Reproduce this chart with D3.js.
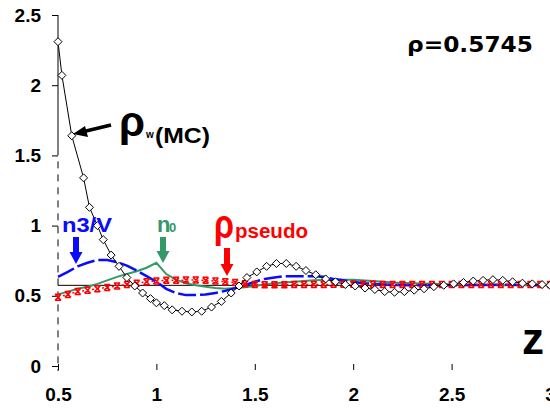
<!DOCTYPE html>
<html>
<head>
<meta charset="utf-8">
<script src="https://cdn.jsdelivr.net/npm/d3@7"></script>
<style>
  body { margin: 0; background: #fff; }
  svg { display: block; }
  .tick text { font-family: "Liberation Sans", Arial, sans-serif; font-weight: bold; font-size: 19px; fill: #000; }
  .tick line { stroke: #000; }
</style>
</head>
<body>
<div class="canva"></div>
<script>
// ticks
const xTicks = [0.5, 1, 1.5, 2, 2.5, 3];
const yTicks = [0, 0.5, 1, 1.5, 2, 2.5];
const rhoBulk = 0.5745;

// rho_w(MC), black with diamonds
const zMC = [0.50,0.52,0.57,0.63,0.66,0.70,0.73,0.77,0.81,0.85,0.89,0.93,0.97,1.00,1.04,1.08,1.13,1.18,1.23,1.28,
  1.33,1.38,1.42,1.46,1.51,1.56,1.61,1.66,1.71,1.76,1.81,1.86,1.91,1.96,2.01,2.06,2.11,2.16,2.21,2.26,
  2.31,2.36,2.41,2.46,2.51,2.56,2.61,2.66,2.71,2.76,2.81,2.86,2.91,2.96,3.00];
const rhoMC = [2.31,2.07,1.64,1.34,1.13,1.00,0.90,0.79,0.71,0.63,0.57,0.52,0.48,0.45,0.43,0.40,0.39,0.385,0.39,0.42,
  0.46,0.52,0.57,0.63,0.67,0.71,0.73,0.73,0.71,0.68,0.65,0.62,0.60,0.58,0.57,0.555,0.545,0.53,0.525,0.53,
  0.54,0.55,0.565,0.575,0.585,0.595,0.605,0.61,0.615,0.61,0.60,0.59,0.585,0.58,0.575];

// n3/V, blue dashed
const zN3 = [0.50,0.55,0.60,0.65,0.70,0.75,0.80,0.85,0.90,0.95,1.00,1.05,1.10,1.15,1.20,1.25,1.30,1.35,1.40,1.45,
  1.50,1.55,1.60,1.65,1.70,1.75,1.80,1.85,1.90,1.95,2.00,2.05,2.10,2.20,2.30,2.40,2.50,2.60,2.70,2.80,2.90,3.00];
const n3V = [0.635,0.67,0.71,0.735,0.755,0.755,0.74,0.715,0.68,0.64,0.60,0.55,0.52,0.505,0.505,0.51,0.52,0.535,0.555,0.575,
  0.60,0.62,0.63,0.64,0.64,0.64,0.64,0.635,0.62,0.61,0.60,0.59,0.585,0.578,0.575,0.575,0.575,0.577,0.578,0.578,0.576,0.575];

// n0, green
const zN0 = [0.50,0.55,0.60,0.65,0.70,0.75,0.80,0.85,0.90,0.95,1.00,1.05,1.10,1.15,1.20,1.25,1.30,1.35,1.40,1.45,
  1.50,1.55,1.60,1.70,1.80,1.90,2.00,2.10,2.20,2.30,2.40,2.50,2.60,2.70,2.80,2.90,3.00];
const n0 = [0.51,0.53,0.55,0.565,0.585,0.61,0.635,0.655,0.675,0.70,0.735,0.655,0.615,0.59,0.575,0.565,0.555,0.55,0.555,0.56,
  0.57,0.58,0.59,0.60,0.61,0.615,0.615,0.605,0.595,0.59,0.585,0.58,0.578,0.576,0.575,0.575,0.575];

// rho_pseudo, red dotted with x marks
const zPs = [0.50,0.55,0.60,0.65,0.70,0.75,0.80,0.85,0.90,0.95,1.00,1.05,1.10,1.15,1.20,1.25,1.30,1.35,1.40,1.45,
  1.50,1.55,1.60,1.65,1.70,1.75,1.80,1.85,1.90,1.95,2.00,2.05,2.10,2.15,2.20,2.25,2.30,2.35,2.40,2.45,
  2.50,2.55,2.60,2.65,2.70,2.75,2.80,2.85,2.90,2.95,3.00];
const rhoPs = [0.49,0.51,0.53,0.54,0.55,0.56,0.57,0.58,0.59,0.60,0.605,0.61,0.61,0.612,0.612,0.61,0.605,0.60,0.595,0.585,
  0.58,0.578,0.578,0.578,0.58,0.58,0.58,0.58,0.582,0.582,0.582,0.582,0.582,0.58,0.58,0.58,0.58,0.58,0.58,0.58,
  0.58,0.58,0.58,0.58,0.58,0.58,0.58,0.58,0.58,0.58,0.58];

const W = 550, H = 408;
const svg = d3.select(".canva").append("svg")
  .attr("width", W)
  .attr("height", H);
svg.append("rect").attr("width", W).attr("height", H).attr("fill", "#fff");

const x = d3.scaleLinear().domain([0.5, 3]).range([58, 550]);
const y = d3.scaleLinear().domain([0, 2.5]).range([366, 15]);

// y axis: ticks and labels, domain drawn by hand (solid top, dashed below)
svg.append("g")
  .attr("transform", "translate(58,0)")
  .call(d3.axisLeft(y).tickValues(yTicks).tickSize(6).tickPadding(11).tickFormat(d3.format("")))
  .call(g => g.select(".domain").remove());
svg.append("line")
  .attr("x1", x(0.5)).attr("x2", x(0.5))
  .attr("y1", y(2.5)).attr("y2", y(1.55))
  .attr("stroke", "#000");
svg.append("line")
  .attr("x1", x(0.5)).attr("x2", x(0.5))
  .attr("y1", y(1.55)).attr("y2", y(0) + 5)
  .attr("stroke", "#000")
  .attr("stroke-dasharray", "7,6");

// x axis
svg.append("g")
  .attr("transform", "translate(0,364)")
  .call(d3.axisBottom(x).tickValues(xTicks).tickSize(6).tickPadding(18).tickFormat(d3.format("")))
  .call(g => g.select(".domain").remove());

// bulk density line
svg.append("line")
  .attr("x1", x(0.5)).attr("x2", x(3))
  .attr("y1", y(rhoBulk)).attr("y2", y(rhoBulk))
  .attr("stroke", "#000").attr("stroke-width", 1);

const line = d3.line().x(d => x(d[0])).y(d => y(d[1]));
const zip = (a, b) => a.map((v, i) => [v, b[i]]);

// green n0
svg.append("path")
  .attr("d", line(zip(zN0, n0)))
  .attr("fill", "none").attr("stroke", "#339966").attr("stroke-width", 2);

// blue n3/V
svg.append("path")
  .attr("d", line(zip(zN3, n3V)))
  .attr("fill", "none").attr("stroke", "#0a0aff").attr("stroke-width", 2.5)
  .attr("stroke-dasharray", "18,4");

// red pseudo
const ps = zip(zPs, rhoPs);
svg.append("path")
  .attr("d", line(ps))
  .attr("fill", "none").attr("stroke", "#ff0000").attr("stroke-width", 1.5)
  .attr("stroke-dasharray", "2,3");
svg.selectAll(".ps").data(ps).enter().append("path")
  .attr("class", "ps")
  .attr("transform", d => `translate(${x(d[0])},${y(d[1])})`)
  .attr("d", "M-3,-3L3,3M3,-3L-3,3M-3,-3H3M-3,3H3")
  .attr("stroke", "#ff0000").attr("stroke-width", 1.5).attr("fill", "none");

// black MC with diamonds
const mc = zip(zMC, rhoMC);
svg.append("path")
  .attr("d", line(mc))
  .attr("fill", "none").attr("stroke", "#000").attr("stroke-width", 1);
svg.selectAll(".mc").data(mc).enter().append("path")
  .attr("class", "mc")
  .attr("transform", d => `translate(${x(d[0])},${y(d[1])})`)
  .attr("d", "M0,-4L4,0L0,4L-4,0Z")
  .attr("fill", "#fff").attr("stroke", "#000").attr("stroke-width", 1);

// annotations
const bold = "'Liberation Sans', Arial, sans-serif";
function txt(s, px, py, size, color, len, fam) {
  const t = svg.append("text")
    .attr("x", px).attr("y", py)
    .attr("font-family", fam || bold).attr("font-weight", "bold")
    .attr("font-size", size).attr("fill", color)
    .text(s);
  if (len) t.attr("textLength", len).attr("lengthAdjust", "spacingAndGlyphs");
  return t;
}
function arrowDown(cx, top, tip, color) {
  svg.append("path")
    .attr("d", `M${cx-3},${top}H${cx+3}V${tip-12}H${cx+6.5}L${cx},${tip}L${cx-6.5},${tip-12}H${cx-3}Z`)
    .attr("fill", color);
}

txt("ρ=0.5745", 407, 52, 21, "#000", 126, "'DejaVu Sans', sans-serif");

txt("ρ", 119, 136, 42, "#000", 26);
txt("w", 146, 138, 10, "#000");
txt("(MC)", 155, 143, 22, "#000", 55);
// black arrow to MC curve
svg.append("line").attr("x1", 111).attr("y1", 125).attr("x2", 84).attr("y2", 131.5)
  .attr("stroke", "#000").attr("stroke-width", 3.5);
svg.append("path").attr("d", "M73,134L85,126L88,137Z").attr("fill", "#000");

txt("n3/V", 62, 232, 20, "#0a0aff", 50);
arrowDown(76, 237, 264, "#0a0aff");

txt("n", 157, 232, 22, "#339966");
txt("0", 169, 232, 13, "#339966");
arrowDown(163, 237, 263, "#339966");

txt("ρ", 214, 238, 40, "#ff0000", 20);
txt("pseudo", 235, 238, 20, "#ff0000", 73);
arrowDown(227, 248, 276, "#ff0000");

txt("z", 522, 354, 44, "#000");
</script>
</body>
</html>
